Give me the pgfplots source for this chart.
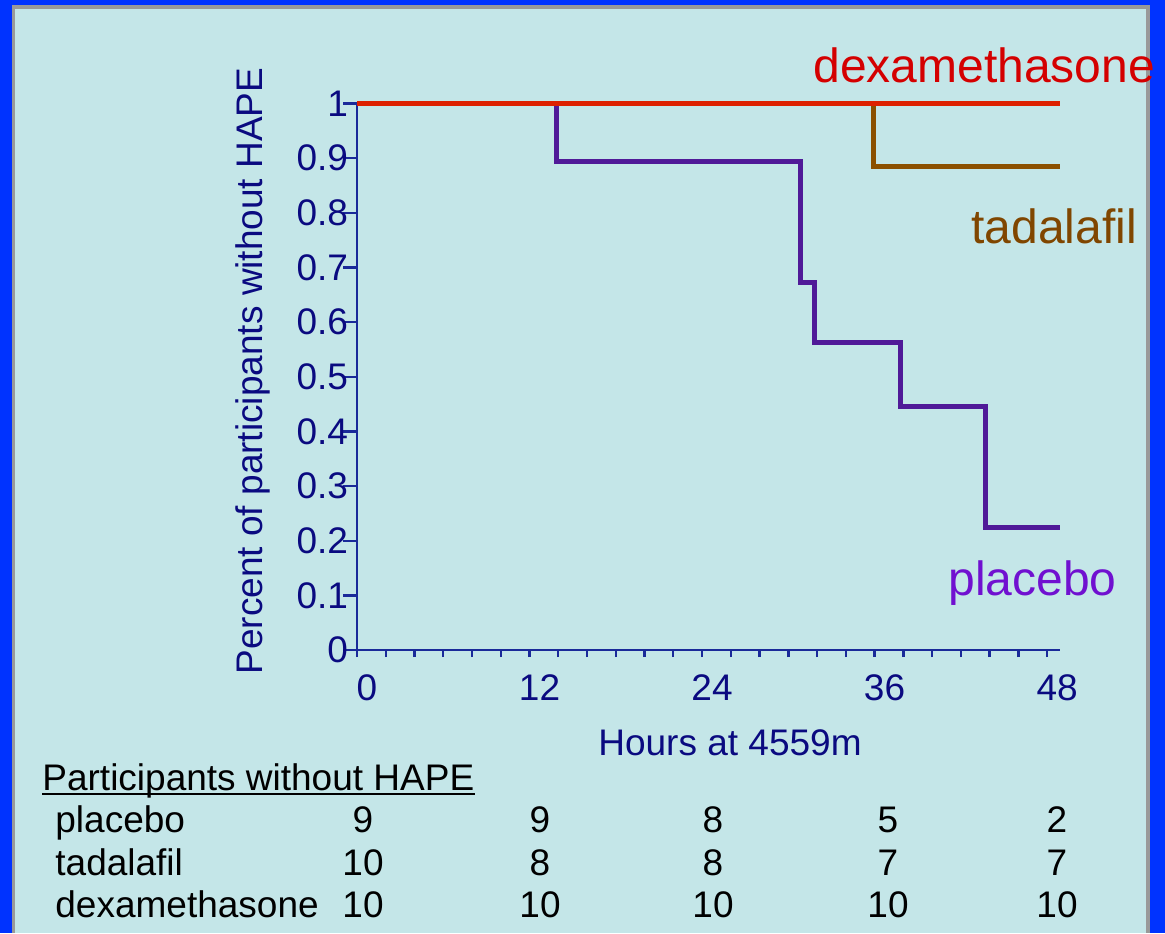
\documentclass[border=0pt]{standalone}
\usepackage{fontspec}
\setmainfont{Liberation Sans}
\usepackage{pgfplots}
\pgfplotsset{compat=1.18}
\definecolor{framebl}{HTML}{0033FF}
\definecolor{framegr}{HTML}{999999}
\definecolor{bgcyan}{HTML}{C4E6E8}
\definecolor{navytxt}{HTML}{0A0A80}
\definecolor{navyax}{HTML}{1A2A99}
\definecolor{dexline}{HTML}{DD2000}
\definecolor{dextxt}{HTML}{D40000}
\definecolor{tadline}{HTML}{8B5000}
\definecolor{tadtxt}{HTML}{804600}
\definecolor{plaline}{HTML}{501A98}
\definecolor{platxt}{HTML}{7010D0}
\newcommand{\smallf}{\fontsize{18.5}{22}\selectfont}
\newcommand{\bigf}{\fontsize{24}{28}\selectfont}
\begin{document}
\begin{tikzpicture}
% frame and background
\fill[framebl] (0,0) rectangle (582.5pt,-466.5pt);
\fill[framegr] (6pt,-2.5pt) rectangle (575pt,-466.5pt);
\fill[bgcyan] (7.5pt,-4.5pt) rectangle (573pt,-466.5pt);
\begin{axis}[
  anchor=south west, at={(178.5pt,-325pt)},
  scale only axis, width=351.5pt, height=273.25pt,
  xmin=0, xmax=48.9, ymin=0, ymax=1,
  clip=false,
  axis x line=bottom, axis y line=left,
  axis line style={-, draw=navyax, line width=1.4pt},
  tick align=outside,
  xtick={0,2,...,48},
  xticklabels={0,,,,,,12,,,,,,24,,,,,,36,,,,,,48},
  ytick={0,0.1,...,1},
  yticklabels={0,0.1,0.2,0.3,0.4,0.5,0.6,0.7,0.8,0.9,1},
  xtick style={draw=navyax, line width=1.2pt, /pgfplots/major tick length=3.5pt},
  ytick style={draw=navyax, line width=1.2pt, /pgfplots/major tick length=7pt},
  tick label style={font=\smallf, text=navytxt},
  xticklabel style={anchor=north, inner sep=0pt, xshift=5pt, yshift=-8pt},
  yticklabel style={anchor=east, inner sep=0pt},
]
\addplot[const plot, draw=plaline, line width=2.5pt] coordinates {
  (0,1) (13.88,0.893) (30.82,0.673) (31.79,0.562) (37.77,0.445) (43.69,0.225) (48.9,0.225)};
\addplot[const plot, draw=tadline, line width=2.5pt] coordinates {
  (0,1) (35.9,0.884) (48.9,0.884)};
\addplot[draw=dexline, line width=2.5pt] coordinates {(0,1) (48.9,1)};
\end{axis}
% curve labels
\node[anchor=base west, inner sep=0pt, text=dextxt, font=\bigf] at (406.5pt,-41pt) {dexamethasone};
\node[anchor=base west, inner sep=0pt, text=tadtxt, font=\bigf] at (485.5pt,-121.5pt) {tadalafil};
\node[anchor=base west, inner sep=0pt, text=platxt, font=\bigf] at (474pt,-297.5pt) {placebo};
% axis titles
\node[anchor=base, rotate=90, inner sep=0pt, text=navytxt, font=\smallf] at (131pt,-185.5pt) {Percent of participants without HAPE};
\node[anchor=base, inner sep=0pt, text=navytxt, font=\smallf] at (365pt,-377.5pt) {Hours at 4559m};
% table
\node[anchor=base west, inner sep=0pt, font=\smallf] (ph) at (21pt,-395pt) {Participants without HAPE};
\draw[line width=1pt] (21pt,-396.8pt) -- (ph.east |- 0,-396.8pt);
\node[anchor=base west, inner sep=0pt, font=\smallf] at (27.5pt,-416pt) {placebo};
\node[anchor=base west, inner sep=0pt, font=\smallf] at (27.5pt,-437.5pt) {tadalafil};
\node[anchor=base west, inner sep=0pt, font=\smallf] at (27.5pt,-458.5pt) {dexamethasone};
\foreach \x/\a/\b/\c in {181.5/9/10/10, 270/9/8/10, 356.5/8/8/10, 444/5/7/10, 528.5/2/7/10}{
  \node[anchor=base, inner sep=0pt, font=\smallf] at (\x pt,-416pt) {\a};
  \node[anchor=base, inner sep=0pt, font=\smallf] at (\x pt,-437.5pt) {\b};
  \node[anchor=base, inner sep=0pt, font=\smallf] at (\x pt,-458.5pt) {\c};
}
\pgfresetboundingbox
\useasboundingbox (0,0) rectangle (582.5pt,-466.5pt);
\end{tikzpicture}
\end{document}
